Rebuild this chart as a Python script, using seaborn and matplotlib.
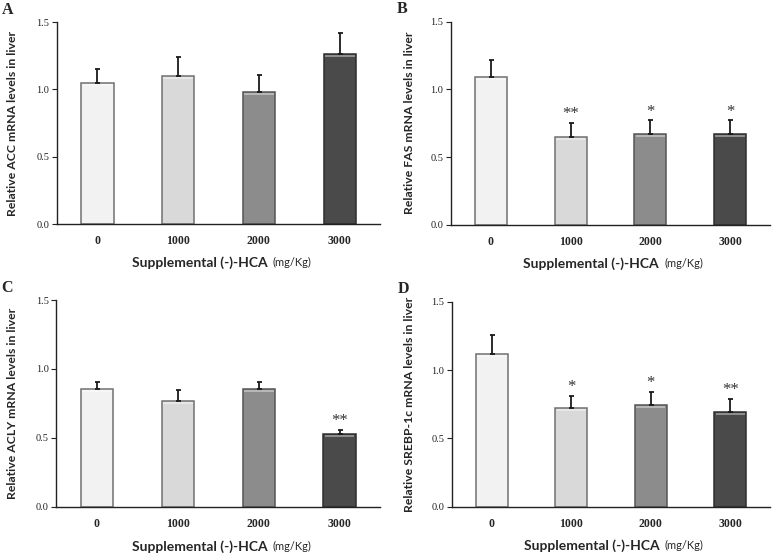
import matplotlib
matplotlib.use("Agg")
import matplotlib.pyplot as plt
import matplotlib.transforms as mtransforms
from matplotlib.colors import to_rgb
import seaborn as sns
import pandas as pd

# doses of (-)-HCA, mg/Kg
doses = ["0", "1000", "2000", "3000"]

acc_mean = [1.05, 1.10, 0.98, 1.26]
acc_err = [0.10, 0.14, 0.13, 0.16]
acc_sig = ["", "", "", ""]

fas_mean = [1.09, 0.65, 0.67, 0.67]
fas_err = [0.13, 0.10, 0.10, 0.10]
fas_sig = ["", "**", "*", "*"]

acly_mean = [0.855, 0.765, 0.855, 0.527]
acly_err = [0.05, 0.085, 0.05, 0.034]
acly_sig = ["", "", "", "**"]

srebp_mean = [1.12, 0.724, 0.742, 0.69]
srebp_err = [0.14, 0.086, 0.10, 0.10]
srebp_sig = ["", "*", "*", "**"]

bar_colors = ["#f2f2f2", "#d9d9d9", "#8c8c8c", "#4a4a4a"]
edge_colors = ["#707070", "#707070", "#555555", "#2e2e2e"]

sns.set_theme(style="white")
plt.rcParams["font.family"] = ["Liberation Serif", "DejaVu Serif"]

label_font = "Lato"


def lighter(c, amt=0.45):
    r, g, b = to_rgb(c)
    return (r + (1 - r) * amt, g + (1 - g) * amt, b + (1 - b) * amt)


fig = plt.figure(figsize=(7.78, 5.53), dpi=100)

panels = [
    ("A", "ACC", acc_mean, acc_err, acc_sig, [0.0733, 0.5949, 0.4152, 0.3653], -0.121),
    ("B", "FAS", fas_mean, fas_err, fas_sig, [0.5797, 0.5937, 0.4100, 0.3671], -0.113),
    ("C", "ACLY", acly_mean, acly_err, acly_sig, [0.0725, 0.0832, 0.4160, 0.3743], -0.120),
    ("D", "SREBP-1c", srebp_mean, srebp_err, srebp_sig, [0.5810, 0.0837, 0.4087, 0.3707], -0.116),
]

for letter, gene, mean, err, sig, rect, ylab_x in panels:
    ax = fig.add_axes(rect)
    df = pd.DataFrame({"dose": doses, "value": mean})

    sns.barplot(data=df, x="dose", y="value", hue="dose", palette=bar_colors,
                width=0.4, errorbar=None, legend=False, ax=ax, zorder=2)

    # outline + light bevel line just under the top of each bar
    shift = mtransforms.offset_copy(ax.transData, fig=fig, y=-2, units="dots")
    for patch, ec, fc in zip(ax.patches, edge_colors, bar_colors):
        patch.set_edgecolor(ec)
        patch.set_linewidth(1.1)
        x0 = patch.get_x()
        w = patch.get_width()
        top = patch.get_height()
        ax.plot([x0 + w * 0.04, x0 + w * 0.96], [top, top], color=lighter(fc),
                lw=1.2, transform=shift, zorder=2.5, solid_capstyle="butt")

    # one-sided error bars (upper only)
    xs = list(range(len(doses)))
    ax.errorbar(xs, mean, yerr=[[0] * len(err), err], fmt="none",
                ecolor="#1a1a1a", elinewidth=1.3, capsize=1.8, capthick=1.3, zorder=3)

    for x, m, e, s in zip(xs, mean, err, sig):
        if s:
            ax.text(x, m + e + 0.035, s, ha="center", va="baseline",
                    fontsize=12, color="#333333")

    ax.set_ylim(0, 1.5)
    ax.set_xlim(-0.5, 3.5)
    ax.set_yticks([0.0, 0.5, 1.0, 1.5])
    ax.set_yticklabels(["0.0", "0.5", "1.0", "1.5"])
    ax.tick_params(axis="y", left=True, length=3.5, width=0.8, pad=2,
                   labelsize=7.5, colors="#222222")
    ax.tick_params(axis="x", bottom=False, length=0, pad=8, labelsize=8.5)
    for lab in ax.get_xticklabels():
        lab.set_fontweight("bold")

    sns.despine(ax=ax)
    for side in ["left", "bottom"]:
        ax.spines[side].set_color("#222222")
        ax.spines[side].set_linewidth(1.0)

    ax.set_xlabel("")
    ax.set_ylabel(f"Relative {gene} mRNA levels in liver", family=label_font,
                  fontweight="bold", fontsize=8.8)
    ax.yaxis.set_label_coords(ylab_x, 0.5)

    ax.text(0.652, -0.19, "Supplemental (-)-HCA", transform=ax.transAxes,
            ha="right", va="center", family=label_font, fontweight="bold", fontsize=10)
    ax.text(0.668, -0.19, "(mg/Kg)", transform=ax.transAxes,
            ha="left", va="center", family=label_font, fontsize=8)

    ax.text(-0.17, 1.06, letter, transform=ax.transAxes, ha="left", va="center",
            fontsize=11.5, fontweight="bold")

fig.savefig("out.png", dpi=100)
